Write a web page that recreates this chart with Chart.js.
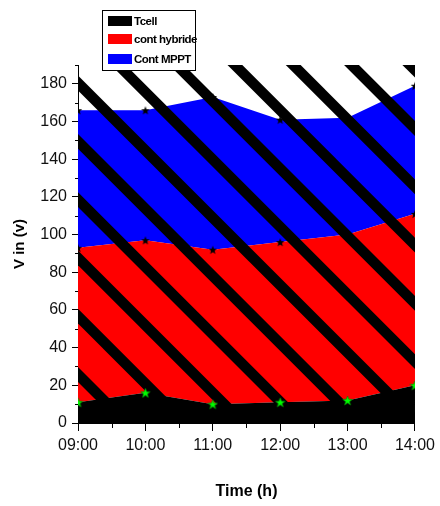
<!DOCTYPE html>
<html>
<head>
<meta charset="utf-8">
<script src="https://cdn.jsdelivr.net/npm/chart.js@4.4.1/dist/chart.umd.min.js"></script>
<style>
  html, body { margin: 0; padding: 0; background: #fff; }
  #wrap { position: relative; width: 440px; height: 506px; }
  #legend {
    position: absolute; left: 102px; top: 10px; width: 94px; height: 61px;
    border: 1px solid #000; background: #fff; box-sizing: border-box;
    font-family: 'Liberation Sans', Arial, sans-serif;
    font-weight: bold; font-size: 11.5px; color: #000; letter-spacing: -0.5px;
  }
  .item { position: absolute; left: 5px; height: 12px; line-height: 12px; white-space: nowrap; }
  .sw { display: inline-block; width: 24px; height: 10px; vertical-align: top; margin-top: 1px; margin-right: 2px; }
</style>
</head>
<body>
<div id="wrap">
  <canvas id="c" width="440" height="506"></canvas>
  <div id="legend"></div>
</div>
<script>
// ---- data ----
const categories = ['09:00', '10:00', '11:00', '12:00', '13:00', '14:00'];
const tcell = [11, 16, 10, 11, 12, 20];
const contHybride = [93, 97, 92, 96, 100, 111];
const contMPPT = [166, 166, 173, 161, 162, 179];
const seriesLabels = ['Tcell', 'cont hybride', 'Cont MPPT'];
const yMin = 0, yMax = 190, yStep = 20;

// ---- styles ----
const fillColors = ['#000000', '#ff0000', '#0000ff'];
const SANS = "'Liberation Sans', Arial, sans-serif";

function starCanvas(size, fill, stroke) {
  const c = document.createElement('canvas');
  c.width = size; c.height = size;
  const g = c.getContext('2d');
  const cx = size / 2, cy = size / 2 + 0.5, R = size / 2 - 0.5, r = R * 0.42;
  g.beginPath();
  for (let i = 0; i < 10; i++) {
    const a = -Math.PI / 2 + i * Math.PI / 5;
    const rad = i % 2 === 0 ? R : r;
    const x = cx + rad * Math.cos(a), y = cy + rad * Math.sin(a);
    if (i === 0) g.moveTo(x, y); else g.lineTo(x, y);
  }
  g.closePath();
  g.fillStyle = fill; g.fill();
  if (stroke) { g.lineWidth = 0.7; g.strokeStyle = stroke; g.stroke(); }
  return c;
}
const greenStar = starCanvas(11, '#00ff00', '#008800');
const blackStar = starCanvas(10, '#000000', null);

// decorative diagonal hatching over the plot area
const stripeStyle = { width: 10.5, gap: 58.3, phase: 18 };
const stripePlugin = {
  id: 'stripes',
  beforeDatasetsDraw(chart) {
    const { ctx, chartArea: a } = chart;
    ctx.save();
    ctx.beginPath();
    ctx.rect(a.left, a.top, a.right - a.left, a.bottom - a.top);
    ctx.clip();
    ctx.strokeStyle = '#000';
    ctx.lineWidth = stripeStyle.width;
    const span = (a.right - a.left) + (a.bottom - a.top);
    for (let k = -12; k <= 12; k++) {
      const c = stripeStyle.phase + k * stripeStyle.gap; // y - top = (x - left) + c
      const x0 = a.left - 20, y0 = a.top + (x0 - a.left) + c;
      const x1 = a.left + span, y1 = a.top + (x1 - a.left) + c;
      ctx.beginPath(); ctx.moveTo(x0, y0); ctx.lineTo(x1, y1); ctx.stroke();
    }
    ctx.restore();
  }
};

const minorTicks = {
  id: 'minorTicks',
  afterDraw(chart) {
    const { ctx, scales } = chart;
    const y = scales.y, x = scales.x;
    ctx.save();
    ctx.strokeStyle = '#000'; ctx.lineWidth = 1;
    for (let v = yMin + yStep / 2; v <= yMax; v += yStep) {
      const p = Math.round(y.getPixelForValue(v)) + 0.5;
      ctx.beginPath(); ctx.moveTo(x.left - 3, p); ctx.lineTo(x.left, p); ctx.stroke();
    }
    for (let i = 0; i < categories.length - 1; i++) {
      const p = Math.round((x.getPixelForValue(i) + x.getPixelForValue(i + 1)) / 2) + 0.5;
      ctx.beginPath(); ctx.moveTo(p, y.bottom); ctx.lineTo(p, y.bottom + 5); ctx.stroke();
    }
    ctx.restore();
  }
};

const seriesData = [tcell, contHybride, contMPPT];
const datasets = seriesData.map((d, i) => ({
  label: seriesLabels[i],
  data: d,
  fill: i === 0 ? 'origin' : '-1',
  backgroundColor: fillColors[i],
  borderColor: 'rgba(0,0,0,0)',
  borderWidth: 0,
  tension: 0,
  pointStyle: i === 0 ? greenStar : blackStar,
  pointRadius: 5,
  clip: 0
}));

new Chart(document.getElementById('c'), {
  type: 'line',
  data: { labels: categories, datasets },
  options: {
    responsive: false,
    animation: false,
    layout: { padding: { top: 65, right: 23, left: 0, bottom: 0 } },
    plugins: {
      legend: { display: false },
      tooltip: { enabled: false },
      filler: { drawTime: 'beforeDatasetsDraw' }
    },
    scales: {
      x: {
        type: 'category',
        offset: false,
        grid: { display: true, drawOnChartArea: false, drawTicks: true, tickLength: 8, tickColor: '#000', offset: false },
        border: { display: true, color: '#000', width: 1 },
        ticks: { color: '#111', padding: 5, maxRotation: 0, autoSkip: false,
                 font: { family: SANS, size: 16 } },
        title: { display: true, text: 'Time (h)', color: '#000',
                 font: { family: SANS, size: 16, weight: 'bold' }, padding: { top: 0, bottom: 5 } },
        afterFit(s) { s.height = 83; }
      },
      y: {
        type: 'linear',
        min: yMin, max: yMax,
        grid: { display: true, drawOnChartArea: false, drawTicks: true, tickLength: 6, tickColor: '#000' },
        border: { display: true, color: '#000', width: 1 },
        ticks: { stepSize: yStep, includeBounds: false, color: '#111', padding: 5,
                 font: { family: SANS, size: 16 } },
        title: { display: true, text: 'V in (v)', color: '#000',
                 font: { family: SANS, size: 15, weight: 'bold' },
                 padding: { top: 11, bottom: 0 } },
        afterFit(s) { s.width = 78; }
      }
    }
  },
  plugins: [stripePlugin, minorTicks]
});

// HTML legend built from the series
const legend = document.getElementById('legend');
const rowTops = [4, 22, 42];
seriesLabels.forEach((lab, i) => {
  const it = document.createElement('div');
  it.className = 'item';
  it.style.top = rowTops[i] + 'px';
  const sw = document.createElement('span');
  sw.className = 'sw';
  sw.style.background = fillColors[i];
  it.appendChild(sw);
  it.appendChild(document.createTextNode(lab));
  legend.appendChild(it);
});
</script>
</body>
</html>
